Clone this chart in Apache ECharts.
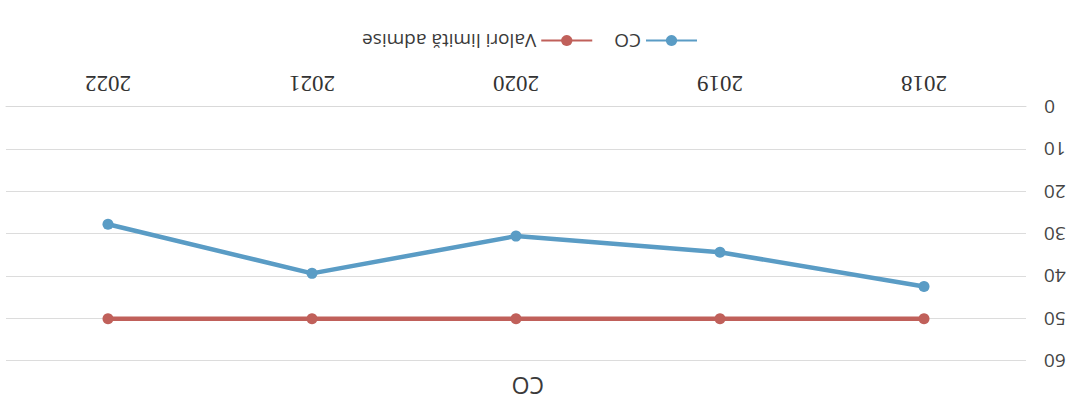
<!DOCTYPE html>
<html>
<head>
<meta charset="utf-8">
<script src="https://cdn.jsdelivr.net/npm/echarts@6/dist/echarts.min.js"></script>
<style>
  html, body { margin: 0; padding: 0; background: #ffffff; }
  #chart { width: 1081px; height: 417px; transform: rotate(180deg); transform-origin: 50% 50%; }
</style>
</head>
<body>
<div id="chart"></div>
<script>
const chartTitle = 'CO';
const categories = ['2018', '2019', '2020', '2021', '2022'];
const yTicks = [0, 10, 20, 30, 40, 50, 60];
const seriesNames = ['CO', 'Valori limită admise'];
const coValues = [42.4, 34.3, 30.5, 39.3, 27.7];
const limitValues = [50, 50, 50, 50, 50];

const chart = echarts.init(document.getElementById('chart'), null, { renderer: 'svg' });
const sans = '"Open Sans", "Liberation Sans", sans-serif';
chart.setOption({
  animation: false,
  backgroundColor: '#ffffff',
  title: {
    text: chartTitle,
    left: 532,
    top: 15,
    textStyle: { fontFamily: sans, fontSize: 23, fontWeight: 'normal', color: '#3a3a3a' }
  },
  legend: {
    data: seriesNames,
    left: 378,
    top: 362,
    itemWidth: 51,
    itemHeight: 14,
    itemGap: 21,
    textStyle: { fontFamily: sans, fontSize: 19, color: '#3a3a3a' }
  },
  grid: { left: 55, right: 6, top: 56, bottom: 107, containLabel: false },
  xAxis: {
    type: 'category',
    data: categories,
    boundaryGap: true,
    axisLine: { lineStyle: { color: '#d9d9d9' } },
    axisTick: { show: false },
    axisLabel: { fontFamily: '"Liberation Serif", serif', fontSize: 23, color: '#333333', margin: 12 }
  },
  yAxis: {
    type: 'value',
    min: yTicks[0],
    max: yTicks[yTicks.length - 1],
    interval: yTicks[1] - yTicks[0],
    axisLine: { show: false },
    axisTick: { show: false },
    splitLine: { lineStyle: { color: '#dcdcdc', width: 1 } },
    axisLabel: { fontFamily: sans, fontSize: 19, color: '#444444', margin: 18 }
  },
  series: [
    {
      name: seriesNames[0],
      type: 'line',
      data: coValues,
      symbol: 'circle',
      symbolSize: 11,
      lineStyle: { width: 4.5, color: '#5a9cc5' },
      itemStyle: { color: '#5a9cc5' }
    },
    {
      name: seriesNames[1],
      type: 'line',
      data: limitValues,
      symbol: 'circle',
      symbolSize: 11,
      lineStyle: { width: 4.5, color: '#c0605a' },
      itemStyle: { color: '#c0605a' }
    }
  ]
});
</script>
</body>
</html>
